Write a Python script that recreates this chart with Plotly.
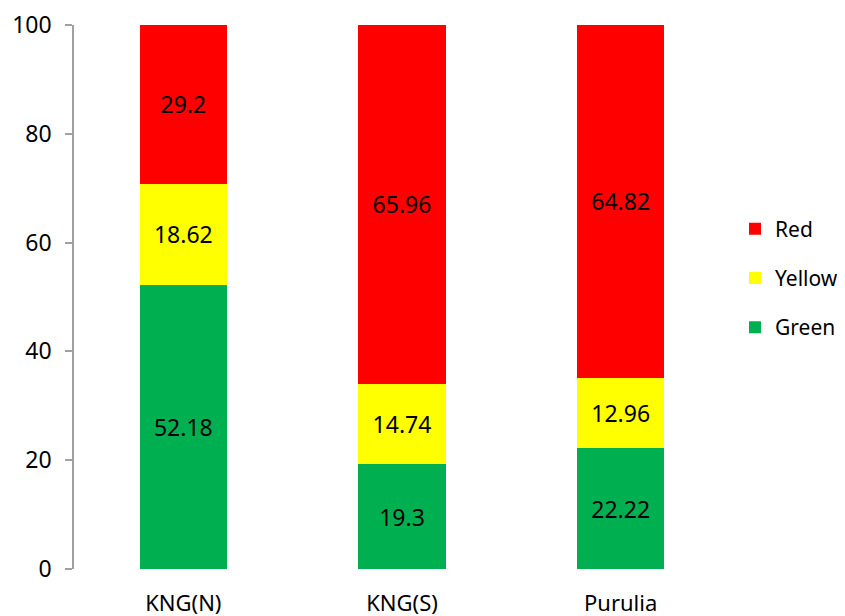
import plotly.graph_objects as go

categories = ["KNG(N)", "KNG(S)", "Purulia"]
green = [52.18, 19.3, 22.22]
yellow = [18.62, 14.74, 12.96]
red = [29.2, 65.96, 64.82]
series = [("Green", green, "#00B050", 3), ("Yellow", yellow, "#FFFF00", 2), ("Red", red, "#FF0000", 1)]

FONT = "Noto Sans"
W, H = 837, 608  # page body has an 8px margin
fig = go.Figure()
for name, vals, color, rank in series:
    fig.add_trace(go.Bar(
        x=categories, y=vals, name=name, legendgroup=name, legendrank=rank,
        marker=dict(color=color, line=dict(width=0)),
        text=[f"{v:g}" for v in vals], textposition="inside",
        insidetextanchor="middle", textangle=0,
        textfont=dict(family=FONT, size=23, color="black"),
        constraintext="none",
    ))

fig.update_layout(
    barmode="stack", bargap=0.6,
    width=W, height=H,
    margin=dict(l=66, r=115, t=17, b=47, autoexpand=False),
    plot_bgcolor="white", paper_bgcolor="white",
    font=dict(family=FONT, size=23, color="black"),
    legend=dict(traceorder="grouped", tracegroupgap=19,
                xref="container", yref="container",
                x=727 / W, xanchor="left", y=1 - 270 / H, yanchor="middle",
                font=dict(family=FONT, size=21, color="black"),
                itemwidth=30),
    showlegend=True,
)
fig.update_yaxes(range=[0, 100], tickvals=[0, 20, 40, 60, 80, 100],
                 showgrid=False, zeroline=False, showline=True,
                 linecolor="#A0A0A0", linewidth=1.5, ticks="outside",
                 ticklen=7, tickcolor="#A0A0A0", tickwidth=1.5,
                 ticklabelstandoff=9, tickfont=dict(size=23), automargin=False)
fig.update_xaxes(showgrid=False, zeroline=False, showline=False,
                 ticks="", ticklabelstandoff=19, tickfont=dict(size=22), automargin=False)

fig.write_html("out.html")
